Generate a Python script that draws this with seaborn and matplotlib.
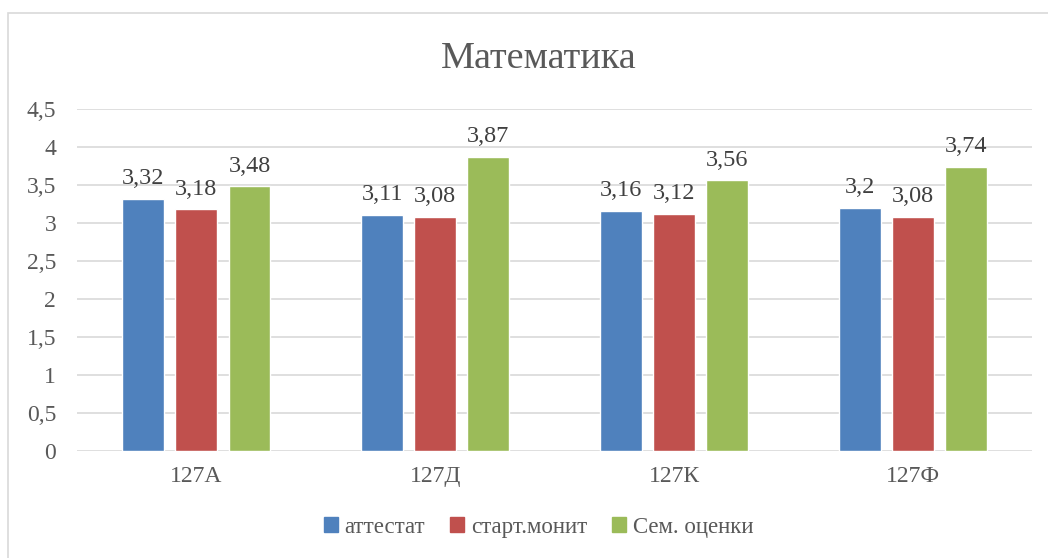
import matplotlib.pyplot as plt
import matplotlib.patches as mpatches
import pandas as pd
import seaborn as sns

groups = ['127А', '127Д', '127К', '127Ф']
series = ['аттестат', 'старт.монит', 'Сем. оценки']
attestat = [3.32, 3.11, 3.16, 3.2]
start_monit = [3.18, 3.08, 3.12, 3.08]
sem_marks = [3.48, 3.87, 3.56, 3.74]
colors = ['#4F81BD', '#C0504D', '#9BBB59']

TEXT = '#595959'

df = pd.DataFrame({'group': groups * 3,
                   'series': [s for s in series for _ in groups],
                   'value': attestat + start_monit + sem_marks})

sns.set_style('white')
plt.rcParams['font.family'] = ['Liberation Serif', 'DejaVu Serif']

fig = plt.figure(figsize=(10.48, 5.58), dpi=100)
ax = fig.add_axes([0.0735, 0.1918, 0.9115, 0.6129])

sns.barplot(data=df, x='group', y='value', hue='series', order=groups, hue_order=series,
            palette=colors, width=0.666, gap=0.21, saturation=1, ax=ax, legend=False)

for cont in ax.containers:
    labels = [('%g' % b.get_height()).replace('.', ',') for b in cont]
    ax.bar_label(cont, labels=labels, padding=7, fontsize=17.5, color='#404040')

ax.set_ylim(0, 4.5)
ax.set_xlim(-0.5, 3.5)
ax.set_yticks([i * 0.5 for i in range(10)])
ax.set_yticklabels([('%g' % (i * 0.5)).replace('.', ',') for i in range(10)])
ax.yaxis.grid(True, color='#D9D9D9', linewidth=1.2)
ax.set_axisbelow(True)
for s in ax.spines.values():
    s.set_visible(False)
ax.tick_params(axis='both', length=0, labelsize=17, colors=TEXT)
ax.tick_params(axis='y', pad=15)
ax.tick_params(axis='x', pad=11)
ax.set_xlabel('')
ax.set_ylabel('')

fig.text(0.514, 0.895, 'Математика', ha='center', va='center', fontsize=27.5, color=TEXT)

handles = [mpatches.Patch(color=c, label=s) for c, s in zip(colors, series)]
fig.legend(handles=handles, loc='center', bbox_to_anchor=(0.514, 0.055), ncol=3, frameon=False,
           fontsize=16.5, labelcolor=TEXT, handlelength=0.6, handleheight=0.6, handletextpad=0.3,
           columnspacing=1.1)

fig.patches.append(mpatches.Rectangle((8 / 1048, -0.01), 1.1, 1 - 13 / 558 + 0.01,
                                      transform=fig.transFigure, fill=False,
                                      edgecolor='#D9D9D9', linewidth=1.2))

fig.savefig('out.png', dpi=100)
